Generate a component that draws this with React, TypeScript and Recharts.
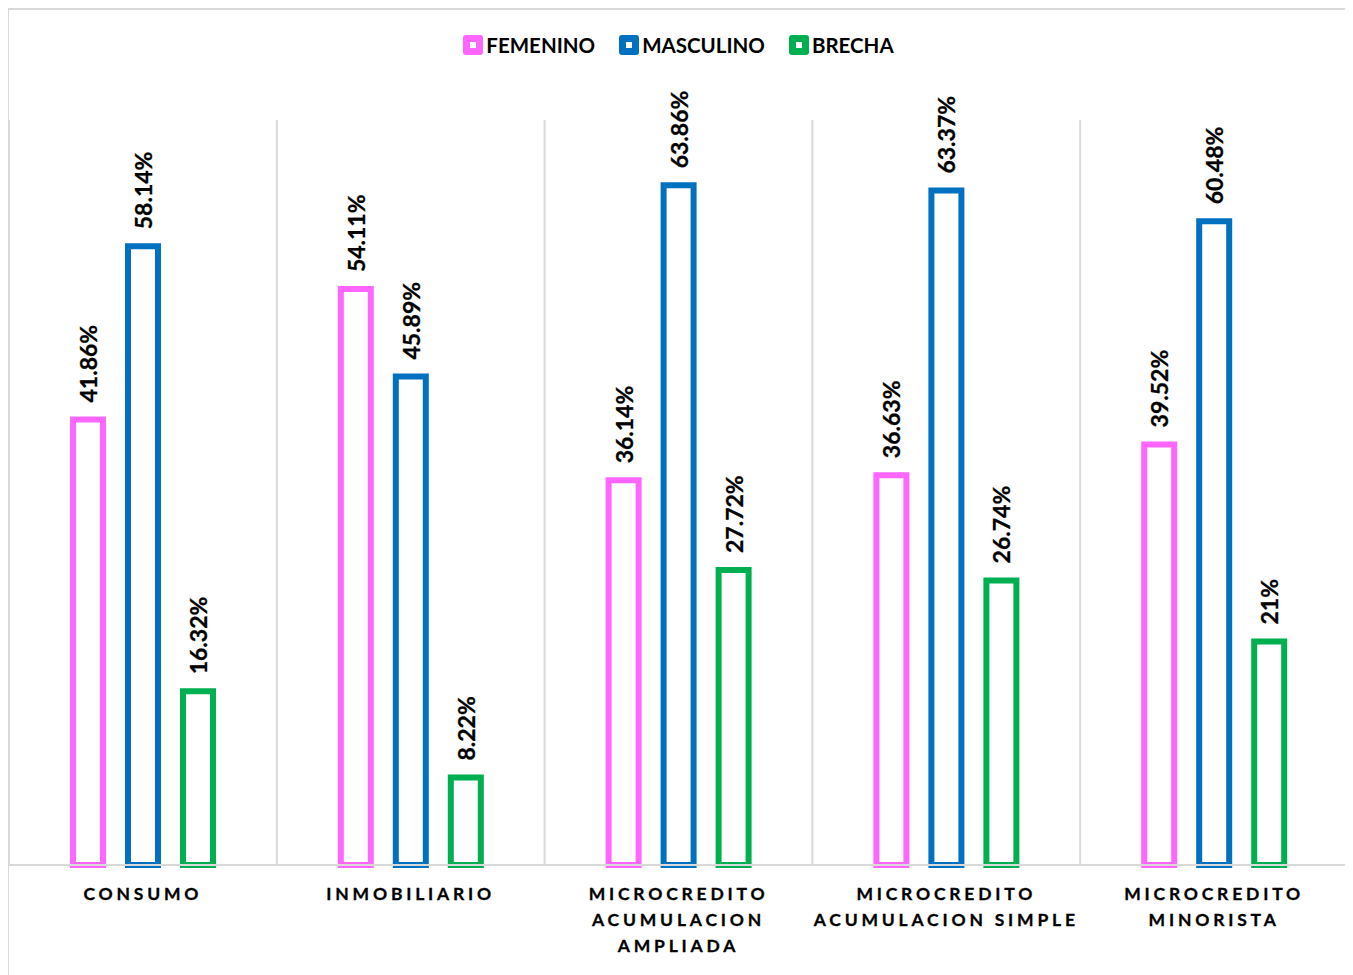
import { BarChart, Bar, XAxis, YAxis, CartesianGrid, LabelList } from "recharts";

const categories = [
  "CONSUMO",
  "INMOBILIARIO",
  "MICROCREDITO ACUMULACION AMPLIADA",
  "MICROCREDITO ACUMULACION SIMPLE",
  "MICROCREDITO MINORISTA",
];
const tickLines = [
  ["CONSUMO"],
  ["INMOBILIARIO"],
  ["MICROCREDITO", "ACUMULACION", "AMPLIADA"],
  ["MICROCREDITO", "ACUMULACION SIMPLE"],
  ["MICROCREDITO", "MINORISTA"],
];
const femenino = [41.86, 54.11, 36.14, 36.63, 39.52];
const masculino = [58.14, 45.89, 63.86, 63.37, 60.48];
const brecha = [16.32, 8.22, 27.72, 26.74, 21];

const series = [
  { key: "femenino", name: "FEMENINO", color: "#ff66ff" },
  { key: "masculino", name: "MASCULINO", color: "#0070c0" },
  { key: "brecha", name: "BRECHA", color: "#00b050" },
];

const data = categories.map((c, i) => ({
  category: c,
  femenino: femenino[i],
  masculino: masculino[i],
  brecha: brecha[i],
}));

const FONT = "Lato, 'Open Sans', sans-serif";

function CategoryTick(props: any) {
  const { x, y, index } = props;
  const lines = tickLines[index] || [];
  return (
    <text
      x={x}
      y={y + 27}
      textAnchor="middle"
      fontFamily={FONT}
      fontWeight={700}
      fontSize={17.5}
      letterSpacing={3.8}
      fill="#000"
      stroke="#000"
      strokeWidth={0.3}
    >
      {lines.map((l, i) => (
        <tspan key={i} x={x} dy={i === 0 ? 0 : 26}>
          {l}
        </tspan>
      ))}
    </text>
  );
}

function ValueLabel(props: any) {
  const { x, y, width, value } = props;
  const cx = x + width / 2;
  const ty = y - 17;
  return (
    <text
      x={cx}
      y={ty}
      transform={`rotate(-90 ${cx} ${ty})`}
      textAnchor="start"
      dominantBaseline="central"
      fontFamily={FONT}
      fontWeight={700}
      fontSize={23}
      fill="#000"
      stroke="#000"
      strokeWidth={0.3}
    >
      {`${value}%`}
    </text>
  );
}

export default function App() {
  return (
    <div
      style={{
        position: "relative",
        width: 1343,
        height: 975,
        border: "2px solid #d9d9d9",
        boxSizing: "border-box",
        marginLeft: -1,
        background: "#fff",
      }}
    >
      <div
        style={{
          position: "absolute",
          top: 23,
          left: 0,
          width: "100%",
          display: "flex",
          justifyContent: "center",
          gap: 24,
          fontFamily: FONT,
          fontWeight: 700,
          fontSize: 20.5,
          color: "#000",
        }}
      >
        {series.map((s) => (
          <div key={s.key} style={{ display: "flex", alignItems: "center", gap: 3 }}>
            <div
              style={{
                width: 20,
                height: 20,
                borderRadius: 3,
                background: s.color,
                display: "flex",
                alignItems: "center",
                justifyContent: "center",
              }}
            >
              <div style={{ width: 6, height: 6, background: "#fff" }} />
            </div>
            <span>{s.name}</span>
          </div>
        ))}
      </div>
      <BarChart
        width={1339}
        height={971}
        data={data}
        margin={{ top: 110, right: 0, bottom: 8, left: 0 }}
        barSize={30}
        barGap={25}
      >
        <CartesianGrid
          horizontal={false}
          stroke="#d9d9d9"
          strokeWidth={2}
          verticalCoordinatesGenerator={({ offset }: any) =>
            categories.map((_, i) => offset.left + (i * offset.width) / categories.length).concat([offset.left + offset.width])
          }
        />
        <XAxis
          dataKey="category"
          axisLine={{ stroke: "#d9d9d9", strokeWidth: 2 }}
          tickLine={false}
          tick={<CategoryTick />}
          interval={0}
          height={108}
        />
        <YAxis hide domain={[0, 70]} />
        {series.map((s) => (
          <Bar
            key={s.key}
            dataKey={s.key}
            name={s.name}
            fill="#fff"
            stroke={s.color}
            strokeWidth={6}
            isAnimationActive={false}
          >
            <LabelList dataKey={s.key} content={<ValueLabel />} />
          </Bar>
        ))}
      </BarChart>
    </div>
  );
}
